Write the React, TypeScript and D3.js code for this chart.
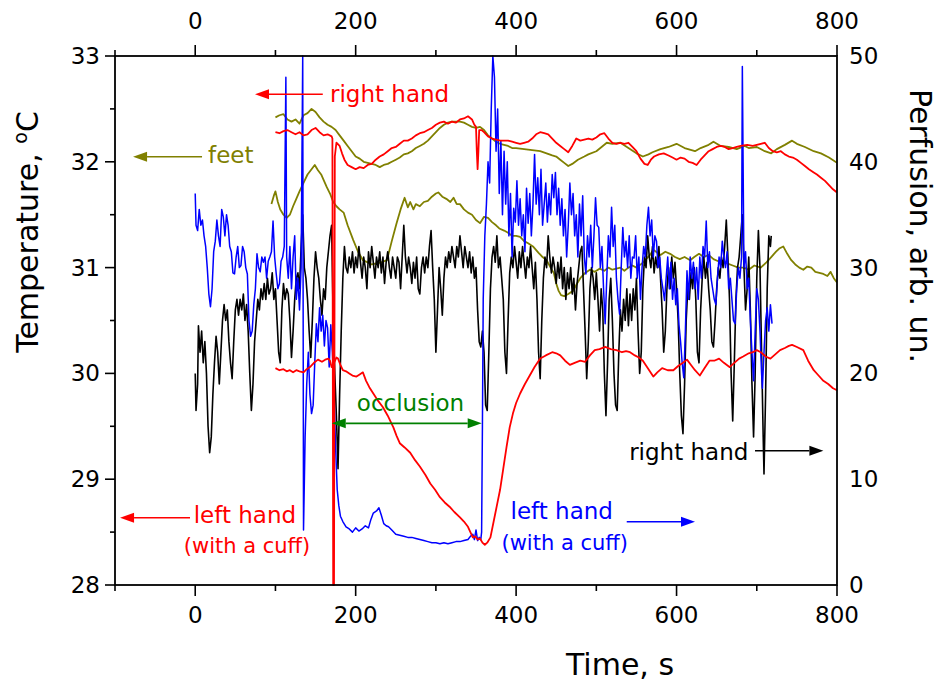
import React from 'react'
import * as d3 from 'd3'

// time (s) / value pairs
const rightHandPerf: [number, number][] = [
  [0, 20], [1, 16.5], [3, 19], [4, 24.5], [6, 22], [8, 24], [10, 21], [12, 23], [14, 20], [16, 15], [18, 12.5], [20, 14],
  [22, 18], [24, 21], [26, 23.5], [28, 22], [30, 19], [32, 22], [34, 25], [36, 26.5], [38, 25], [40, 26], [42, 23], [44, 21],
  [46, 19.5], [48, 23], [50, 26], [52, 27], [54, 25.5], [56, 27], [58, 26], [60, 27.5], [62, 25], [64, 26.5], [66, 24], [68, 20],
  [70, 16.5], [72, 19], [74, 23], [76, 25], [78, 27], [80, 26], [82, 28], [84, 27], [86, 28.5], [88, 27], [90, 29], [92, 27.5],
  [94, 28], [96, 29.5], [98, 27], [100, 28], [102, 25], [104, 22], [106, 21], [108, 26], [110, 28.5], [112, 27], [114, 28],
  [116, 27.5], [118, 25], [120, 21.5], [122, 24], [124, 27], [126, 29], [128, 29.5], [130, 28], [132, 32], [134, 35], [136, 30],
  [138, 29], [140, 27], [142, 24], [144, 21.5], [146, 25], [148, 29], [150, 31.5], [152, 30], [154, 29], [156, 27], [158, 25.5],
  [160, 28], [162, 27], [164, 30], [166, 31.5], [168, 33], [170, 34], [172, 25], [174, 20], [176, 16], [178, 11], [180, 18],
  [182, 24], [184, 29], [186, 32], [188, 30], [190, 29.5], [192, 31], [194, 30], [196, 31.5], [198, 29.5], [200, 31],
  [202, 30], [204, 32], [206, 30.5], [208, 29], [210, 31], [212, 30], [214, 28], [216, 31.5], [218, 30], [220, 32], [222, 30.5],
  [224, 29], [226, 31], [228, 30], [230, 31.5], [232, 29.5], [234, 31], [236, 28.5], [238, 30.5], [240, 31.5], [242, 30],
  [244, 29], [246, 31], [248, 30], [250, 29], [252, 31], [254, 30.5], [256, 28], [258, 31], [260, 34], [262, 31], [264, 29.5],
  [266, 31], [268, 30], [270, 28.5], [272, 30.5], [274, 29], [276, 31], [278, 28], [280, 27.5], [282, 30], [284, 31], [286, 29.5],
  [288, 31], [290, 30], [292, 32], [294, 33.5], [296, 30], [298, 27], [300, 22], [302, 26], [304, 30], [306, 28], [308, 25.5],
  [310, 29], [312, 31], [314, 30], [316, 31.5], [318, 30.5], [320, 32], [322, 31], [324, 30], [326, 32], [328, 31], [330, 33],
  [332, 31.5], [334, 30], [336, 32], [338, 31], [340, 30], [342, 31.5], [344, 29.5], [346, 31], [348, 29], [350, 30], [352, 26],
  [354, 23], [356, 22.5], [358, 24], [360, 22], [362, 17], [364, 16.5], [366, 22], [368, 28], [370, 31], [372, 32], [374, 30.5],
  [376, 33], [378, 30], [380, 31], [382, 29], [384, 27], [386, 22], [388, 20], [390, 25], [392, 29.5], [394, 31], [396, 30],
  [398, 32], [400, 30.5], [402, 29], [404, 31.5], [406, 30], [408, 32], [410, 30.5], [412, 29], [414, 31], [416, 30], [418, 32],
  [420, 30], [422, 28], [424, 30.5], [426, 27], [428, 22], [430, 19.5], [432, 25], [434, 29], [436, 31], [438, 30], [440, 33],
  [442, 31], [444, 29.5], [446, 31], [448, 30], [450, 28.5], [452, 30.5], [454, 29], [456, 31], [458, 28], [460, 30], [462, 27],
  [464, 29.5], [466, 28], [468, 30], [470, 27.5], [472, 29], [474, 26], [476, 28.5], [478, 30], [480, 31.5], [482, 32], [484, 28],
  [486, 24], [488, 19.5], [490, 23], [492, 28], [494, 30], [496, 29], [498, 27], [500, 29.5], [502, 27], [504, 24], [506, 28],
  [508, 26], [510, 20], [512, 16], [514, 21], [516, 27], [518, 29], [520, 25], [522, 20], [524, 17], [526, 16.5], [528, 22],
  [530, 26], [532, 24], [534, 27], [536, 25], [538, 28], [540, 24.5], [542, 27.5], [544, 25], [546, 28], [548, 26], [550, 29],
  [552, 24], [554, 20], [556, 22], [558, 28], [560, 31], [562, 30], [564, 33], [566, 31], [568, 30], [570, 32], [572, 29.5],
  [574, 31], [576, 30], [578, 32], [580, 29], [582, 26], [584, 22], [586, 24], [588, 28], [590, 30], [592, 28], [594, 31],
  [596, 29], [598, 30.5], [600, 28], [602, 25], [604, 20], [606, 16], [608, 14.3], [610, 19], [612, 25], [614, 28], [616, 27],
  [618, 29.5], [620, 28], [622, 30], [624, 27], [626, 22], [628, 21], [630, 26], [632, 29], [634, 31], [636, 29], [638, 30.5],
  [640, 28], [642, 26], [644, 23], [646, 22.5], [648, 25], [650, 28], [652, 30], [654, 29], [656, 31], [658, 30], [660, 32],
  [662, 34.5], [664, 31], [666, 27], [668, 20], [670, 15.5], [672, 21], [674, 27], [676, 30], [678, 31], [680, 33], [682, 35],
  [684, 30], [686, 26], [688, 28], [690, 31], [692, 26], [694, 19], [696, 14], [698, 20], [700, 29], [702, 33.5], [704, 30],
  [706, 22], [708, 14], [709, 10.5], [711, 18], [713, 28], [715, 33], [717, 32], [718, 33],
]

const leftHandPerf: [number, number][] = [
  [0, 37], [1, 34], [3, 33.5], [5, 35.5], [7, 34], [9, 34.5], [11, 33], [13, 32], [15, 30], [17, 27.5], [19, 26.3], [21, 28],
  [23, 31.5], [25, 32.5], [27, 34.5], [29, 33], [31, 32], [33, 35.5], [35, 34.8], [37, 33], [39, 35], [41, 34], [43, 32],
  [45, 31.5], [47, 29.5], [49, 29.4], [51, 31], [53, 32], [55, 30], [57, 30.2], [59, 32], [61, 31.5], [63, 30], [65, 29.4],
  [67, 25], [69, 23.5], [71, 24], [73, 26.5], [75, 28], [77, 31.3], [79, 30], [81, 29.6], [83, 31], [85, 30.5], [87, 31],
  [89, 29], [91, 30.6], [93, 31], [95, 31.5], [97, 34.4], [99, 31], [101, 29.4], [103, 28], [105, 28.5], [107, 30.6], [109, 31],
  [111, 32], [113, 48], [114, 31], [116, 29], [118, 32], [120, 28], [122, 31], [124, 33], [126, 27], [128, 29], [130, 26],
  [132, 30], [134, 50], [135, 5.2], [137, 14], [139, 19], [141, 22], [143, 18], [145, 16.2], [147, 17], [149, 21], [151, 24.7],
  [153, 23], [155, 26.2], [157, 24], [159, 25.5], [161, 22.6], [163, 25], [165, 24.3], [167, 20.6], [169, 24.6], [171, 22],
  [173, 18], [175, 13], [177, 9], [179, 7.5], [181, 6.5], [184, 6], [188, 5.5], [192, 5.3], [196, 5], [200, 5.4], [204, 5.1],
  [208, 5.3], [212, 5.6], [216, 5.4], [219, 6.2], [222, 6.8], [226, 7], [229, 7.3], [232, 6.6], [235, 5.8], [238, 5.6],
  [241, 5.5], [245, 5.2], [250, 4.8], [255, 4.7], [260, 4.6], [265, 4.5], [270, 4.5], [275, 4.4], [280, 4.3], [285, 4.2],
  [290, 4.1], [295, 4.0], [300, 4.0], [305, 3.9], [310, 4.0], [315, 3.9], [320, 4.0], [325, 4.1], [330, 4.1], [335, 4.2],
  [340, 4.3], [343, 4.6], [346, 4.8], [348, 4.3], [350, 5.2], [352, 4.2], [354, 4.5], [356, 4.3], [357, 5], [358, 15],
  [359, 27], [361, 33], [363, 36], [365, 40], [367, 38], [369, 45], [371, 50], [373, 48], [375, 41], [377, 45], [379, 37],
  [381, 42], [383, 35], [385, 41], [387, 36], [389, 40], [391, 33], [393, 37], [395, 31], [397, 35.6], [399, 34.3], [401, 38.2],
  [403, 34], [405, 36.5], [407, 33], [409, 35], [411, 31.5], [413, 37.5], [415, 34.2], [417, 37], [419, 33], [421, 36],
  [423, 40.7], [425, 36], [427, 38.5], [429, 35], [431, 39.3], [433, 34], [435, 36], [437, 38], [439, 34.3], [441, 37],
  [443, 35], [445, 38.8], [447, 36.6], [449, 39], [451, 35], [453, 37.5], [455, 34], [457, 36.5], [459, 33], [461, 35.5],
  [463, 31], [465, 34], [467, 38], [469, 35], [471, 37], [473, 33], [475, 35], [477, 31], [479, 36], [481, 33], [483, 36.8],
  [485, 31], [487, 29.4], [489, 33], [491, 31], [493, 34], [495, 30], [497, 33], [499, 36.6], [501, 34], [503, 33.8], [505, 30],
  [507, 32], [509, 28], [511, 24.7], [513, 29], [515, 33], [517, 31], [519, 35.7], [521, 32], [523, 34], [525, 29], [527, 27],
  [529, 25.6], [531, 30], [533, 33.8], [535, 31], [537, 32.5], [539, 30], [541, 33], [543, 29], [545, 31], [547, 30.9],
  [549, 33], [551, 29], [553, 31], [555, 27], [557, 30], [559, 32], [561, 31], [563, 34], [565, 35.7], [567, 33], [569, 34.5],
  [571, 31], [573, 33], [575, 32.5], [577, 30], [579, 31], [581, 29], [583, 28], [585, 26.9], [587, 29], [589, 31], [591, 28],
  [593, 30.5], [595, 27], [597, 29], [599, 26.5], [601, 28], [603, 24.6], [605, 23], [607, 21], [609, 19.6], [611, 24],
  [613, 29.7], [615, 27], [617, 31], [619, 29], [621, 30.5], [623, 28], [625, 30], [627, 27], [629, 31], [631, 29], [633, 32],
  [635, 31], [637, 34.4], [639, 30], [641, 31.5], [643, 29], [645, 28], [647, 27], [649, 26.5], [651, 29], [653, 31], [655, 30],
  [657, 32.5], [659, 31], [661, 30], [663, 31.5], [665, 28], [667, 29], [669, 27], [671, 25], [673, 24.7], [675, 28], [677, 30],
  [679, 29], [681, 31], [682, 49], [684, 30], [686, 31.5], [688, 28], [690, 29], [692, 25], [694, 22], [696, 19.3], [698, 24],
  [700, 28], [702, 27], [704, 24], [706, 20], [707, 18.6], [709, 22], [711, 25], [713, 26.2], [715, 24], [717, 26.5], [719, 24.7],
]

const rightHandTemp: [number, number][] = [
  [100, 32.28], [105, 32.27], [110, 32.29], [115, 32.3], [120, 32.28], [125, 32.26], [130, 32.28], [135, 32.25], [140, 32.26],
  [145, 32.3], [150, 32.32], [155, 32.28], [160, 32.25], [165, 32.26], [170, 32.24], [171, 32.22], [172, 28.0], [173, 28.0],
  [174, 32.05], [176, 32.18], [180, 32.15], [183, 32.08], [186, 32.02], [190, 31.97], [195, 31.95], [200, 31.93], [205, 31.95],
  [210, 31.94], [215, 31.97], [220, 31.98], [225, 32.02], [230, 32.05], [235, 32.07], [240, 32.1], [245, 32.13], [250, 32.14],
  [255, 32.17], [260, 32.2], [265, 32.2], [270, 32.22], [275, 32.25], [280, 32.27], [285, 32.28], [290, 32.3], [295, 32.32],
  [300, 32.35], [305, 32.37], [310, 32.38], [315, 32.36], [320, 32.38], [325, 32.37], [330, 32.4], [335, 32.41], [340, 32.43],
  [345, 32.4], [348, 32.35], [350, 32.33], [351, 32.1], [352, 31.93], [353, 32.1], [354, 32.3], [357, 32.3], [360, 32.28],
  [365, 32.24], [370, 32.22], [375, 32.21], [380, 32.2], [385, 32.2], [390, 32.2], [395, 32.19], [400, 32.18], [405, 32.17],
  [410, 32.18], [415, 32.19], [420, 32.22], [425, 32.26], [430, 32.28], [435, 32.27], [440, 32.26], [445, 32.22], [450, 32.18],
  [455, 32.15], [460, 32.12], [465, 32.09], [470, 32.15], [475, 32.22], [480, 32.2], [485, 32.21], [490, 32.22], [495, 32.21],
  [500, 32.23], [505, 32.26], [510, 32.27], [515, 32.22], [520, 32.18], [525, 32.17], [530, 32.18], [535, 32.17], [540, 32.18],
  [545, 32.14], [550, 32.1], [555, 32.03], [560, 31.98], [564, 31.97], [568, 32.02], [572, 32.05], [578, 32.07], [584, 32.08],
  [590, 32.06], [595, 32.04], [600, 32.02], [605, 32.04], [610, 32.03], [615, 32.0], [620, 31.99], [625, 31.97], [630, 32.02],
  [635, 32.06], [640, 32.1], [645, 32.12], [650, 32.14], [655, 32.15], [660, 32.14], [665, 32.12], [670, 32.13], [675, 32.14],
  [680, 32.15], [688, 32.16], [695, 32.15], [700, 32.16], [705, 32.17], [710, 32.18], [715, 32.13], [720, 32.1], [725, 32.09],
  [730, 32.1], [735, 32.07], [740, 32.05], [745, 32.04], [750, 32.02], [755, 31.99], [760, 31.96], [765, 31.93], [771, 31.9],
  [775, 31.88], [780, 31.85], [785, 31.82], [790, 31.78], [795, 31.74], [800, 31.71],
]

const leftHandTemp: [number, number][] = [
  [100, 30.05], [105, 30.03], [110, 30.04], [114, 30.02], [118, 30.03], [122, 30.01], [126, 30.03], [130, 30.02], [135, 30.01],
  [139, 30.04], [143, 30.06], [148, 30.1], [153, 30.13], [158, 30.11], [162, 30.13], [166, 30.14], [168, 30.12], [170, 30.06],
  [173, 30.1], [176, 30.15], [178, 30.14], [181, 30.08], [184, 30.03], [188, 30.02], [192, 30.0], [196, 29.98], [201, 29.97],
  [205, 29.99], [209, 30.01], [211, 29.97], [213, 29.93], [217, 29.87], [222, 29.81], [228, 29.74], [234, 29.68], [240, 29.6],
  [247, 29.49], [251, 29.41], [255, 29.34], [261, 29.3], [268, 29.25], [274, 29.18], [280, 29.12], [287, 29.04], [293, 28.96],
  [299, 28.9], [305, 28.83], [311, 28.78], [317, 28.74], [323, 28.69], [330, 28.64], [335, 28.6], [340, 28.55], [343, 28.5],
  [346, 28.45], [349, 28.46], [352, 28.43], [355, 28.44], [358, 28.4], [361, 28.38], [364, 28.4], [368, 28.45], [372, 28.6],
  [376, 28.75], [380, 28.9], [384, 29.1], [388, 29.3], [392, 29.49], [396, 29.62], [400, 29.72], [405, 29.81], [411, 29.9],
  [417, 29.98], [423, 30.06], [430, 30.14], [437, 30.17], [445, 30.2], [450, 30.19], [455, 30.17], [461, 30.12], [467, 30.08],
  [473, 30.1], [480, 30.12], [486, 30.11], [492, 30.17], [498, 30.22], [504, 30.23], [511, 30.25], [518, 30.23], [525, 30.22],
  [532, 30.2], [537, 30.21], [542, 30.2], [548, 30.17], [553, 30.15], [558, 30.12], [564, 30.05], [571, 29.97], [576, 30.01],
  [582, 30.05], [589, 30.03], [596, 30.03], [602, 30.07], [608, 30.1], [613, 30.13], [618, 30.08], [623, 30.03], [629, 29.98],
  [635, 30.05], [641, 30.12], [647, 30.12], [653, 30.14], [659, 30.1], [666, 30.06], [672, 30.1], [678, 30.14], [683, 30.16],
  [690, 30.19], [695, 30.2], [700, 30.22], [705, 30.2], [711, 30.16], [717, 30.14], [723, 30.18], [729, 30.22], [735, 30.24],
  [740, 30.26], [744, 30.27], [750, 30.25], [758, 30.22], [764, 30.12], [771, 30.03], [777, 29.98], [783, 29.93], [789, 29.9],
  [795, 29.86], [800, 29.84],
]

const feetTempA: [number, number][] = [
  [100, 32.42], [105, 32.44], [110, 32.45], [115, 32.4], [120, 32.38], [125, 32.4], [130, 32.36], [135, 32.44], [140, 32.46],
  [145, 32.5], [150, 32.47], [155, 32.42], [160, 32.38], [165, 32.35], [170, 32.33], [175, 32.3], [180, 32.25], [185, 32.2],
  [190, 32.15], [195, 32.1], [200, 32.05], [205, 32.03], [210, 32.0], [215, 31.99], [220, 31.98], [225, 31.97], [230, 31.95],
  [235, 31.97], [240, 31.98], [245, 32.0], [250, 32.02], [255, 32.04], [260, 32.07], [265, 32.08], [270, 32.1], [275, 32.13],
  [280, 32.15], [285, 32.17], [290, 32.2], [295, 32.24], [300, 32.28], [305, 32.32], [310, 32.35], [315, 32.37], [320, 32.38],
  [325, 32.38], [330, 32.38], [335, 32.37], [340, 32.35], [345, 32.33], [350, 32.32], [355, 32.33], [360, 32.3], [365, 32.25],
  [370, 32.22], [375, 32.19], [380, 32.17], [385, 32.16], [390, 32.15], [395, 32.13], [400, 32.13], [410, 32.12], [420, 32.11],
  [430, 32.1], [438, 32.08], [445, 32.06], [450, 32.05], [455, 32.02], [460, 31.99], [465, 31.96], [470, 31.98], [477, 32.02],
  [485, 32.05], [490, 32.07], [500, 32.1], [505, 32.13], [513, 32.18], [520, 32.17], [530, 32.18], [540, 32.13], [550, 32.08],
  [558, 32.05], [565, 32.07], [570, 32.09], [580, 32.12], [590, 32.14], [600, 32.17], [610, 32.13], [623, 32.1], [630, 32.13],
  [640, 32.16], [646, 32.19], [655, 32.15], [665, 32.14], [675, 32.12], [685, 32.15], [690, 32.13], [700, 32.14], [710, 32.1],
  [718, 32.08], [725, 32.12], [735, 32.16], [744, 32.2], [750, 32.17], [760, 32.14], [771, 32.1], [780, 32.08], [790, 32.04],
  [800, 31.99],
]

const feetTempB: [number, number][] = [
  [95, 31.6], [98, 31.68], [100, 31.72], [103, 31.62], [106, 31.55], [110, 31.5], [114, 31.47], [118, 31.5], [122, 31.58],
  [126, 31.65], [130, 31.72], [135, 31.8], [140, 31.88], [145, 31.93], [149, 31.97], [153, 31.92], [157, 31.88], [160, 31.83],
  [164, 31.76], [168, 31.7], [172, 31.62], [176, 31.58], [180, 31.55], [185, 31.52], [190, 31.4], [197, 31.26], [203, 31.15],
  [209, 31.07], [215, 31.05], [220, 31.03], [226, 31.04], [232, 31.05], [239, 31.07], [245, 31.25], [251, 31.42], [256, 31.55],
  [261, 31.66], [265, 31.57], [268, 31.62], [272, 31.55], [275, 31.6], [280, 31.58], [285, 31.62], [290, 31.63], [295, 31.67],
  [300, 31.7], [303, 31.71], [308, 31.67], [313, 31.65], [318, 31.62], [322, 31.66], [326, 31.6], [330, 31.6], [335, 31.55],
  [340, 31.52], [345, 31.5], [350, 31.45], [355, 31.42], [360, 31.48], [365, 31.47], [370, 31.43], [375, 31.4], [379, 31.37],
  [385, 31.35], [390, 31.33], [395, 31.3], [400, 31.3], [405, 31.29], [410, 31.25], [415, 31.23], [421, 31.2], [428, 31.14],
  [433, 31.1], [438, 31.07], [443, 31.0], [447, 30.95], [450, 30.85], [453, 30.78], [456, 30.74], [460, 30.73], [465, 30.75],
  [471, 30.78], [476, 30.85], [480, 30.9], [486, 30.95], [492, 30.98], [498, 30.96], [504, 30.99], [510, 30.97], [515, 31.0],
  [520, 30.98], [525, 30.99], [530, 31.0], [535, 30.97], [540, 31.0], [545, 31.02], [550, 31.0], [557, 31.04], [562, 31.08],
  [567, 31.12], [571, 31.17], [576, 31.14], [580, 31.12], [586, 31.15], [592, 31.13], [598, 31.1], [604, 31.08], [610, 31.1],
  [617, 31.07], [622, 31.1], [628, 31.13], [634, 31.1], [640, 31.12], [646, 31.08], [652, 31.06], [658, 31.05], [663, 31.04],
  [670, 31.02], [677, 31.0], [684, 31.0], [690, 30.98], [697, 31.02], [705, 31.0], [712, 31.05], [718, 31.1], [724, 31.15],
  [728, 31.18], [733, 31.2], [738, 31.13], [743, 31.07], [748, 31.03], [753, 31.0], [758, 30.98], [763, 31.01], [768, 31.0],
  [773, 30.96], [778, 30.95], [783, 30.94], [788, 30.92], [792, 30.96], [796, 30.9], [800, 30.86],
]

const timeMajor = [0, 200, 400, 600, 800]
const timeMinor = [-100, 100, 300, 500, 700]
const tempMajor = [28, 29, 30, 31, 32, 33]
const tempMinor = [28.5, 29.5, 30.5, 31.5, 32.5]
const perfTicks = [0, 10, 20, 30, 40, 50]

const FONT = "'DejaVu Sans', Verdana, sans-serif"
const W = 937
const H = 686
const left = 115
const right = 837
const top = 56
const bottom = 585

const x = d3.scaleLinear().domain([-100, 800]).range([left, right])
const yT = d3.scaleLinear().domain([28, 33]).range([bottom, top])
const yP = d3.scaleLinear().domain([0, 50]).range([bottom, top])

const tempLine = d3.line<[number, number]>().x((d) => x(d[0])).y((d) => yT(d[1]))
const perfLine = d3.line<[number, number]>().x((d) => x(d[0])).y((d) => yP(d[1]))

// arrow: tail (x1,y1) -> tip (x2,y2), head at tip (and tail if both)
const Arrow = ({ x1, y1, x2, y2, color, both = false }: any) => {
  const hl = 14
  const hw = 5
  const dir = Math.sign(x2 - x1)
  const head = (tx: number, d: number) =>
    `${tx},${y2} ${tx - d * hl},${y2 - hw} ${tx - d * hl},${y2 + hw}`
  return (
    <g>
      <line x1={both ? x1 + dir * hl : x1} y1={y1} x2={x2 - dir * hl} y2={y2} stroke={color} strokeWidth={1.6} />
      <polygon points={head(x2, dir)} fill={color} />
      {both && <polygon points={head(x1, -dir)} fill={color} />}
    </g>
  )
}

const Label = ({ t, v, anchor = 'start', size = 23, color, children }: any) => (
  <text x={x(t)} y={yT(v)} textAnchor={anchor} fontSize={size} fill={color} fontFamily={FONT}>
    {children}
  </text>
)

const App = () => {
  return (
    <svg width={W} height={H} style={{ position: 'absolute', left: 0, top: 0, background: '#fff' }}>
      <defs>
        <clipPath id="plot">
          <rect x={left} y={top - 1} width={right - left} height={bottom - top + 2} />
        </clipPath>
      </defs>

      <g clipPath="url(#plot)" fill="none" strokeLinejoin="round">
        <path d={tempLine(feetTempA) || ''} stroke="#808000" strokeWidth={1.8} />
        <path d={tempLine(feetTempB) || ''} stroke="#808000" strokeWidth={1.8} />
        <path d={perfLine(rightHandPerf) || ''} stroke="#000" strokeWidth={1.6} />
        <path d={perfLine(leftHandPerf) || ''} stroke="#0000ff" strokeWidth={1.5} />
        <path d={tempLine(rightHandTemp) || ''} stroke="#ff0000" strokeWidth={1.8} />
        <path d={tempLine(leftHandTemp) || ''} stroke="#ff0000" strokeWidth={1.8} />
      </g>

      {/* frame */}
      <rect x={left} y={top} width={right - left} height={bottom - top} fill="none" stroke="#000" strokeWidth={1.8} />

      {/* x ticks, bottom and top */}
      <g stroke="#000" strokeWidth={1.6}>
        {timeMajor.map((t) => (
          <g key={'M' + t}>
            <line x1={x(t)} x2={x(t)} y1={bottom} y2={bottom + 11} />
            <line x1={x(t)} x2={x(t)} y1={top} y2={top - 11} />
          </g>
        ))}
        {timeMinor.map((t) => (
          <g key={'m' + t}>
            <line x1={x(t)} x2={x(t)} y1={bottom} y2={bottom + 6} />
            <line x1={x(t)} x2={x(t)} y1={top} y2={top - 6} />
          </g>
        ))}
        {tempMajor.map((v) => (
          <line key={'T' + v} x1={left} x2={left - 10} y1={yT(v)} y2={yT(v)} />
        ))}
        {tempMinor.map((v) => (
          <line key={'t' + v} x1={left} x2={left - 5} y1={yT(v)} y2={yT(v)} />
        ))}
      </g>

      <g fontFamily={FONT} fontSize={23} fill="#000">
        {timeMajor.map((t) => (
          <text key={'b' + t} x={x(t)} y={623} textAnchor="middle">{t}</text>
        ))}
        {timeMajor.map((t) => (
          <text key={'u' + t} x={x(t)} y={29} textAnchor="middle">{t}</text>
        ))}
        {tempMajor.map((v) => (
          <text key={'l' + v} x={100} y={yT(v) + 8} textAnchor="end">{v}</text>
        ))}
        {perfTicks.map((v) => (
          <text key={'r' + v} x={849} y={yP(v) + 8} textAnchor="start">{v}</text>
        ))}
      </g>

      {/* axis titles */}
      <text x={620} y={675} textAnchor="middle" fontFamily={FONT} fontSize={30}>Time, s</text>
      <text transform="translate(38,232) rotate(-90)" textAnchor="middle" fontFamily={FONT} fontSize={30}>
        Temperature, <tspan fontSize={19} dy={-11}>o</tspan><tspan dy={11}>C</tspan>
      </text>
      <text transform="translate(910,226) rotate(90)" textAnchor="middle" fontFamily={FONT} fontSize={30}>
        Perfusion, arb. un.
      </text>

      {/* annotations */}
      <Arrow x1={x(159)} y1={yT(32.638)} x2={x(74.5)} y2={yT(32.638)} color="#ff0000" />
      <Label t={168} v={32.568} color="#ff0000">right hand</Label>

      <Arrow x1={x(8.5)} y1={yT(32.048)} x2={x(-77.5)} y2={yT(32.048)} color="#808000" />
      <Label t={16} v={31.986} color="#808000">feet</Label>

      <Arrow x1={x(170.2)} y1={yT(29.528)} x2={x(357.1)} y2={yT(29.528)} color="#008000" both />
      <Label t={268.4} v={29.647} anchor="middle" color="#008000">occlusion</Label>

      <Arrow x1={x(-6.5)} y1={yT(28.636)} x2={x(-93.7)} y2={yT(28.636)} color="#ff0000" />
      <Label t={62} v={28.583} anchor="middle" color="#ff0000">left hand</Label>
      <Label t={64.6} v={28.3} anchor="middle" size={21} color="#ff0000">(with a cuff)</Label>

      <Arrow x1={x(537.9)} y1={yT(28.598)} x2={x(623)} y2={yT(28.598)} color="#0000ff" />
      <Label t={456.9} v={28.621} anchor="middle" color="#0000ff">left hand</Label>
      <Label t={460.6} v={28.33} anchor="middle" size={21} color="#0000ff">(with a cuff)</Label>

      <Arrow x1={x(697.8)} y1={yT(29.269)} x2={x(783)} y2={yT(29.269)} color="#000" />
      <Label t={689.5} v={29.181} anchor="end" color="#000">right hand</Label>
    </svg>
  )
}

export default App
